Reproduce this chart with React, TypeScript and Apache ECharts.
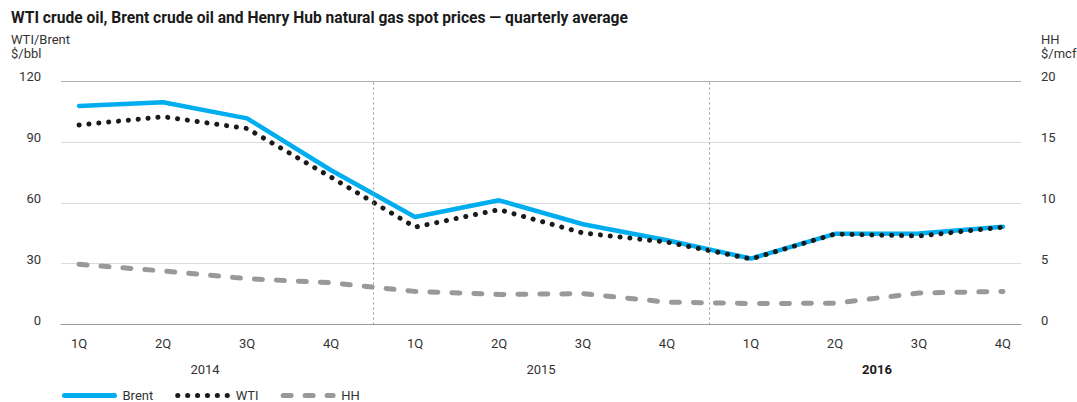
import React, { useEffect, useRef } from "react";
import * as echarts from "echarts";

const quarters = ["1Q", "2Q", "3Q", "4Q", "1Q", "2Q", "3Q", "4Q", "1Q", "2Q", "3Q", "4Q"];
const years = ["2014", "2015", "2016"];
const yearCenters = [1.5, 5.5, 9.5];
const yearDividers = [3.5, 7.5];
const brent = [107.7, 109.5, 101.6, 76.0, 53.0, 61.2, 49.4, 41.5, 32.5, 44.7, 44.8, 48.2];
const wti = [98.3, 102.4, 96.6, 72.6, 48.0, 56.6, 45.1, 40.6, 32.3, 44.6, 43.6, 48.0];
const hh = [4.94, 4.4, 3.76, 3.43, 2.72, 2.47, 2.53, 1.84, 1.72, 1.75, 2.58, 2.72];
const leftTicks = { min: 0, max: 120, interval: 30 };
const rightTicks = { min: 0, max: 20, interval: 5 };

const FONT = "Roboto, 'Open Sans', sans-serif";

export default function App() {
  const ref = useRef<HTMLDivElement>(null);
  useEffect(() => {
    document.body.style.margin = "0";
    const chart = echarts.init(ref.current!, undefined, { renderer: "svg" });
    const xMin = -0.215;
    const xMax = 11.215;
    const option: any = {
      animation: false,
      backgroundColor: "#ffffff",
      textStyle: { fontFamily: FONT },
      title: {
        text: "WTI crude oil, Brent crude oil and Henry Hub natural gas spot prices — quarterly average",
        left: 11,
        top: 10,
        padding: 0,
        textStyle: { fontSize: 15.6, fontWeight: "bold", color: "#1a1a1a", fontFamily: FONT },
      },
      graphic: [
        {
          type: "text",
          left: 11,
          top: 32,
          style: { text: "WTI/Brent\n$/bbl", fill: "#333", font: `13px ${FONT}`, lineHeight: 14 },
        },
        {
          type: "text",
          left: 1041,
          top: 32,
          style: { text: "HH\n$/mcf", fill: "#333", font: `13px ${FONT}`, lineHeight: 14 },
        },
      ],
      legend: {
        left: 62,
        top: 389,
        padding: 0,
        itemWidth: 50,
        itemHeight: 12,
        itemGap: 22,
        itemStyle: { opacity: 0 },
        lineStyle: { width: 5, cap: "round" },
        data: ["Brent", "WTI", "HH"],
        textStyle: { fontSize: 13, lineHeight: 12, color: "#333", padding: [0, 0, 0, 3], fontFamily: FONT },
      },
      grid: { left: 61, right: 56, top: 81, bottom: 77.5 },
      xAxis: [
        {
          type: "value",
          min: xMin,
          max: xMax,
          axisLine: { show: true, lineStyle: { color: "#999", width: 1 } },
          axisTick: { show: false },
          splitLine: { show: false },
          axisLabel: {
            customValues: quarters.map((_, i) => i),
            formatter: (v: number) => quarters[Math.round(v)],
            margin: 12,
            color: "#333",
            fontSize: 13,
          },
        },
        {
          type: "value",
          position: "bottom",
          offset: 26,
          min: xMin,
          max: xMax,
          axisLine: { show: false },
          axisTick: { show: false },
          splitLine: { show: false },
          axisLabel: {
            customValues: yearCenters,
            formatter: (v: number) => {
              const i = yearCenters.indexOf(v);
              const y = years[i] ?? "";
              return i === years.length - 1 ? `{b|${y}}` : y;
            },
            margin: 12,
            color: "#333",
            fontSize: 13,
            rich: { b: { fontWeight: "bold", color: "#1a1a1a", fontSize: 13, fontFamily: FONT } },
          },
        },
      ],
      yAxis: [
        {
          type: "value",
          position: "left",
          ...leftTicks,
          axisLine: { show: false },
          axisTick: { show: false },
          splitLine: {
            show: true,
            lineStyle: { color: ["#999", "#dcdcdc", "#dcdcdc", "#dcdcdc", "#b0b0b0"], width: 1 },
          },
          axisLabel: {
            margin: 20,
            align: "right",
            verticalAlign: "bottom",
            lineHeight: 9,
            color: "#333",
            fontSize: 13,
          },
        },
        {
          type: "value",
          position: "right",
          ...rightTicks,
          axisLine: { show: false },
          axisTick: { show: false },
          splitLine: { show: false },
          axisLabel: {
            margin: 20,
            align: "left",
            verticalAlign: "bottom",
            lineHeight: 9,
            color: "#333",
            fontSize: 13,
          },
        },
      ],
      series: [
        {
          name: "HH",
          type: "line",
          yAxisIndex: 1,
          data: hh.map((v, i) => [i, v]),
          symbol: "none",
          z: 1,
          color: "#999999",
          lineStyle: { color: "#999999", width: 5, type: [8, 14], cap: "round" },
        },
        {
          name: "Brent",
          type: "line",
          data: brent.map((v, i) => [i, v]),
          symbol: "none",
          z: 2,
          color: "#00aeef",
          lineStyle: { color: "#00aeef", width: 4.5, cap: "round" },
          markLine: {
            silent: true,
            symbol: ["none", "none"],
            label: { show: false },
            lineStyle: { color: "#999", width: 1, type: [2, 3] },
            data: yearDividers.map((x) => ({ xAxis: x })),
          },
        },
        {
          name: "WTI",
          type: "line",
          data: wti.map((v, i) => [i, v]),
          symbol: "none",
          z: 3,
          color: "#1a1a1a",
          lineStyle: { color: "#1a1a1a", width: 5, type: [0.1, 9.8], cap: "round" },
        },
      ],
    };
    chart.setOption(option);
    return () => chart.dispose();
  }, []);
  return <div ref={ref} style={{ width: 1077, height: 402 }} />;
}
